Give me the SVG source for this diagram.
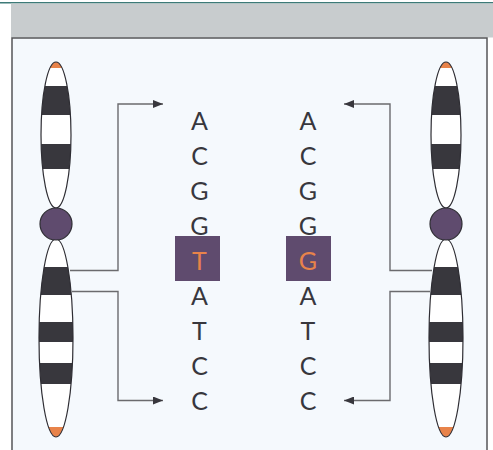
<svg xmlns="http://www.w3.org/2000/svg" width="493" height="450" viewBox="0 0 493 450">
  <style>
    .base { font-family: Lato, "Open Sans", "Liberation Sans", sans-serif; font-size: 25px; fill: #38373d; text-anchor: middle; }
    .hl { fill: #e8834a; }
    .arm { fill: #ffffff; }
    .outline { fill: none; stroke: #2e2d33; stroke-width: 1.2; }
    .band { fill: #38373d; }
    .tip { fill: #e8834a; }
    .cen { fill: #5f4b6e; stroke: #2e2d33; stroke-width: 1.2; }
    .wire { fill: none; stroke: #6b6b6e; stroke-width: 1.4; }
    .box { fill: #5f4b6e; }
  </style>
  <defs>
    <marker id="arrow" viewBox="0 0 10 8" refX="10" refY="4" markerWidth="10" markerHeight="8" markerUnits="userSpaceOnUse" orient="auto">
      <path d="M0,0 L10,4 L0,8 Z" fill="#38373d"/>
    </marker>
    <clipPath id="upL"><ellipse cx="56" cy="135" rx="15" ry="73"/></clipPath>
    <clipPath id="loL"><ellipse cx="56" cy="338" rx="17" ry="99"/></clipPath>
    <clipPath id="upR"><ellipse cx="446" cy="135" rx="15" ry="73"/></clipPath>
    <clipPath id="loR"><ellipse cx="446" cy="338" rx="17" ry="99"/></clipPath>
  </defs>

  <!-- page header -->
  <rect x="0" y="0" width="493" height="450" fill="#ffffff"/>
  <rect x="0" y="2" width="493" height="1.5" fill="#3d7a78"/>
  <rect x="11" y="3.5" width="482" height="34" fill="#c8ccce"/>
  <rect x="12" y="38" width="475" height="420" fill="#f5f9fd" stroke="#555558" stroke-width="1.5"/>

  <!-- connectors -->
  <g id="connectors">
    <path class="wire" d="M70,270.5 H118 V104 H163" marker-end="url(#arrow)"/>
    <path class="wire" d="M72,291.5 H118 V400.5 H163" marker-end="url(#arrow)"/>
    <path class="wire" d="M432,270.5 H390 V104 H344" marker-end="url(#arrow)"/>
    <path class="wire" d="M430,291.5 H390 V400.5 H344" marker-end="url(#arrow)"/>
  </g>

  <!-- left chromosome -->
  <g id="chromosome-left">
    <ellipse class="arm" cx="56" cy="135" rx="15" ry="73"/>
    <g clip-path="url(#upL)">
      <rect class="tip" x="40" y="60" width="32" height="8"/>
      <rect class="band" x="40" y="86" width="32" height="29"/>
      <rect class="band" x="40" y="144" width="32" height="25"/>
    </g>
    <ellipse class="outline" cx="56" cy="135" rx="15" ry="73"/>
    <ellipse class="arm" cx="56" cy="338" rx="17" ry="99"/>
    <g clip-path="url(#loL)">
      <rect class="band" x="38" y="267" width="36" height="28"/>
      <rect class="band" x="38" y="322" width="36" height="20"/>
      <rect class="band" x="38" y="363" width="36" height="21"/>
      <rect class="tip" x="38" y="427" width="36" height="12"/>
    </g>
    <ellipse class="outline" cx="56" cy="338" rx="17" ry="99"/>
    <circle class="cen" cx="56" cy="224" r="16"/>
  </g>

  <!-- right chromosome -->
  <g id="chromosome-right">
    <ellipse class="arm" cx="446" cy="135" rx="15" ry="73"/>
    <g clip-path="url(#upR)">
      <rect class="tip" x="430" y="60" width="32" height="8"/>
      <rect class="band" x="430" y="86" width="32" height="29"/>
      <rect class="band" x="430" y="144" width="32" height="25"/>
    </g>
    <ellipse class="outline" cx="446" cy="135" rx="15" ry="73"/>
    <ellipse class="arm" cx="446" cy="338" rx="17" ry="99"/>
    <g clip-path="url(#loR)">
      <rect class="band" x="428" y="267" width="36" height="28"/>
      <rect class="band" x="428" y="322" width="36" height="20"/>
      <rect class="band" x="428" y="363" width="36" height="21"/>
      <rect class="tip" x="428" y="427" width="36" height="12"/>
    </g>
    <ellipse class="outline" cx="446" cy="338" rx="17" ry="99"/>
    <circle class="cen" cx="446" cy="224" r="16"/>
  </g>

  <!-- left sequence -->
  <g id="sequence-left">
    <rect class="box" x="175" y="236" width="45" height="45"/>
    <text class="base" x="199.5" y="129.5">A</text>
    <text class="base" x="199.5" y="164.5">C</text>
    <text class="base" x="199.5" y="199.5">G</text>
    <text class="base" x="199.5" y="234.5">G</text>
    <text class="base hl" x="199.5" y="269.5">T</text>
    <text class="base" x="199.5" y="304.5">A</text>
    <text class="base" x="199.5" y="339.5">T</text>
    <text class="base" x="199.5" y="374.5">C</text>
    <text class="base" x="199.5" y="409.5">C</text>
  </g>

  <!-- right sequence -->
  <g id="sequence-right">
    <rect class="box" x="286" y="236" width="45" height="45"/>
    <text class="base" x="308" y="129.5">A</text>
    <text class="base" x="308" y="164.5">C</text>
    <text class="base" x="308" y="199.5">G</text>
    <text class="base" x="308" y="234.5">G</text>
    <text class="base hl" x="308" y="269.5">G</text>
    <text class="base" x="308" y="304.5">A</text>
    <text class="base" x="308" y="339.5">T</text>
    <text class="base" x="308" y="374.5">C</text>
    <text class="base" x="308" y="409.5">C</text>
  </g>
</svg>
